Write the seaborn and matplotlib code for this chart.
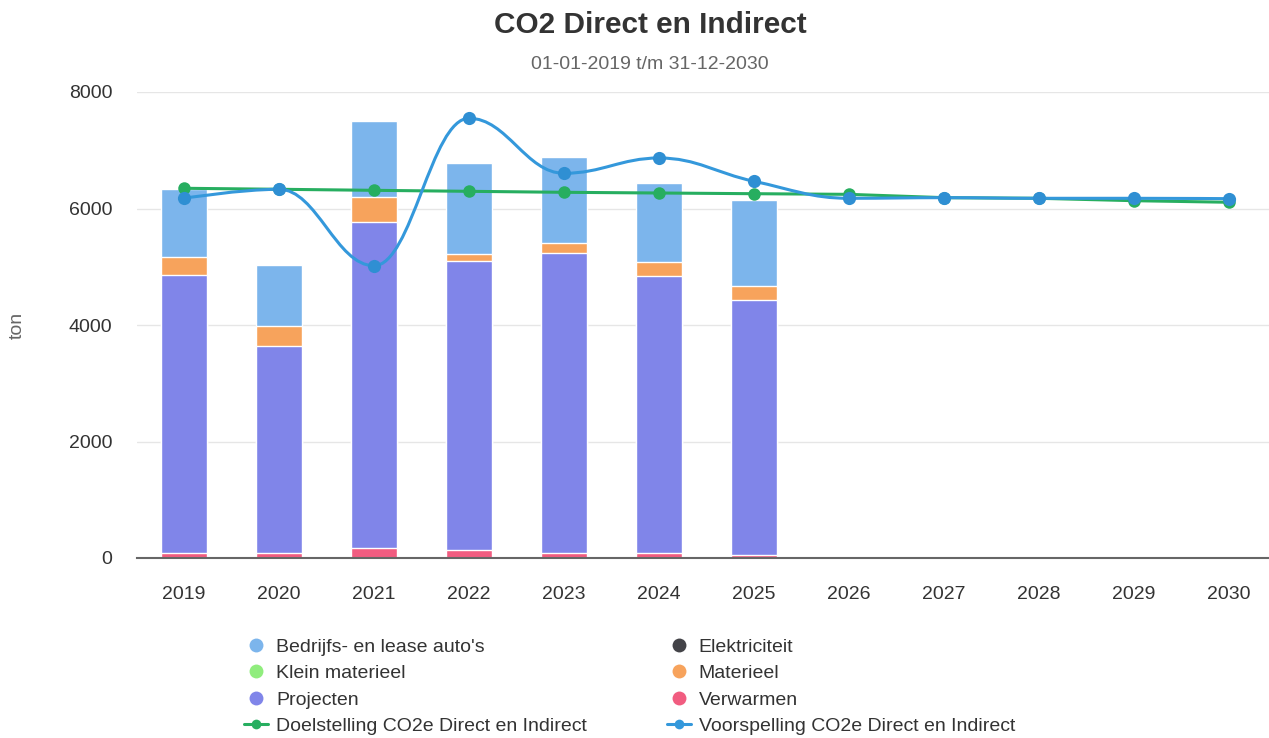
import matplotlib
matplotlib.use("Agg")
import matplotlib.pyplot as plt
from matplotlib.lines import Line2D
from matplotlib.path import Path
from matplotlib.patches import PathPatch
import numpy as np
import pandas as pd
import seaborn as sns

# Gegevens
jaren = ["2019", "2020", "2021", "2022", "2023", "2024", "2025",
         "2026", "2027", "2028", "2029", "2030"]
jarenMetData = ["2019", "2020", "2021", "2022", "2023", "2024", "2025"]
verwarmen = [85, 85, 170, 140, 85, 85, 45]
projecten = [4773, 3555, 5598, 4959, 5146, 4751, 4384]
materieel = [309, 343, 435, 125, 180, 251, 246]
bedrijfsAutos = [1168, 1047, 1299, 1563, 1478, 1356, 1471]
doelstelling = [6347, 6330, 6312, 6295, 6278, 6266, 6254, 6243, 6186, 6175, 6134, 6107]
voorspelling = [6175, 6330, 5018, 7549, 6604, 6867, 6467, 6175, 6186, 6175, 6175, 6169]

kleuren = {
    "Bedrijfs- en lease auto's": "#7cb5ec",
    "Elektriciteit": "#434348",
    "Klein materieel": "#90ed7d",
    "Materieel": "#f7a35c",
    "Projecten": "#8085e9",
    "Verwarmen": "#f15c80",
}
kleurDoel = "#27ae60"
kleurVoorspelling = "#3498db"

sns.set_theme(style="white")
plt.rcParams['font.family'] = ['Liberation Sans', 'DejaVu Sans']

df = pd.DataFrame({
    "jaar": jarenMetData,
    "Verwarmen": verwarmen,
    "Projecten": projecten,
    "Materieel": materieel,
    "Bedrijfs- en lease auto's": bedrijfsAutos,
})
lagen = ["Verwarmen", "Projecten", "Materieel", "Bedrijfs- en lease auto's"]
cumulatief = df[lagen].cumsum(axis=1)
cumulatief["jaar"] = df["jaar"]

fig = plt.figure(figsize=(12.69, 7.38), dpi=100)
ax = fig.add_axes([136.5 / 1269, 180 / 738, 1132.5 / 1269, 466 / 738])

# gestapelde kolommen: hoogste laag eerst, lagere lagen eroverheen
for laag in reversed(lagen):
    sns.barplot(data=cumulatief, x="jaar", y=laag, order=jaren, color=kleuren[laag],
                saturation=1, width=0.48, edgecolor="white", linewidth=1,
                errorbar=None, ax=ax, zorder=2)

xpos = np.arange(len(jaren))

# doelstelling: rechte lijn
sns.lineplot(x=xpos, y=doelstelling, color=kleurDoel, linewidth=2.2, marker="o",
             markersize=9, markeredgewidth=0, ax=ax, zorder=4)


def splinePad(xs, ys, smoothing=1.5):
    'Bezier-pad zoals een Highcharts spline door de punten.'
    n = len(xs)
    denom = smoothing + 1
    links = [(xs[0], ys[0])] * n
    rechts = [(xs[0], ys[0])] * n
    for i in range(n):
        links[i] = (xs[i], ys[i])
        rechts[i] = (xs[i], ys[i])
        if i == 0 or i == n - 1:
            continue
        lx = (smoothing * xs[i] + xs[i - 1]) / denom
        ly = (smoothing * ys[i] + ys[i - 1]) / denom
        rx = (smoothing * xs[i] + xs[i + 1]) / denom
        ry = (smoothing * ys[i] + ys[i + 1]) / denom
        correctie = ((ry - ly) * (rx - xs[i])) / (rx - lx) + ys[i] - ry
        ly += correctie
        ry += correctie
        if ly > ys[i - 1] and ly > ys[i]:
            ly = max(ys[i - 1], ys[i])
            ry = 2 * ys[i] - ly
        elif ly < ys[i - 1] and ly < ys[i]:
            ly = min(ys[i - 1], ys[i])
            ry = 2 * ys[i] - ly
        if ry > ys[i + 1] and ry > ys[i]:
            ry = max(ys[i + 1], ys[i])
            ly = 2 * ys[i] - ry
        elif ry < ys[i + 1] and ry < ys[i]:
            ry = min(ys[i + 1], ys[i])
            ly = 2 * ys[i] - ry
        links[i] = (lx, ly)
        rechts[i] = (rx, ry)
    verts = [(xs[0], ys[0])]
    codes = [Path.MOVETO]
    for i in range(1, n):
        verts += [rechts[i - 1], links[i], (xs[i], ys[i])]
        codes += [Path.CURVE4] * 3
    return Path(verts, codes)


ax.add_patch(PathPatch(splinePad(xpos, voorspelling), facecolor="none",
                       edgecolor=kleurVoorspelling, linewidth=2.2, zorder=5))
sns.scatterplot(x=xpos, y=voorspelling, color="#2f8fd3", s=90,
                linewidth=0, ax=ax, zorder=6)

# assen
ax.set_xlim(-0.5, 11.42)
ax.set_ylim(0, 8000)
ax.set_xticks(xpos)
ax.set_xticklabels(jaren)
ax.set_yticks([0, 2000, 4000, 6000, 8000])
ax.set_xlabel("")
ax.set_ylabel("")
ax.tick_params(axis="both", length=0, labelsize=14, labelcolor="#333333")
ax.tick_params(axis="x", pad=20)
ax.tick_params(axis="y", pad=17.5)
ax.yaxis.grid(True, color="#e6e6e6", linewidth=1, zorder=0)
ax.set_axisbelow(True)
for kant in ["top", "right", "left"]:
    ax.spines[kant].set_visible(False)
ax.spines["bottom"].set_color("#666666")
ax.spines["bottom"].set_linewidth(1.5)
ax.spines["bottom"].set_zorder(3)

fig.text(17.5 / 1269, 1 - 325 / 738, "ton", rotation=90, ha="center", va="center",
         fontsize=14, color="#666666")
fig.text(650 / 1269, 1 - 33 / 738, "CO2 Direct en Indirect", ha="center", va="baseline",
         fontsize=21.4, fontweight="bold", color="#333333")
fig.text(650 / 1269, 1 - 69 / 738, "01-01-2019 t/m 31-12-2030", ha="center",
         va="baseline", fontsize=14, color="#666666")

# legenda (kolomsgewijs gevuld)
def rondje(naam):
    return Line2D([], [], linestyle="none", marker="o", markersize=10,
                  markerfacecolor=kleuren[naam], markeredgewidth=0, label=naam)

handles = [
    rondje("Bedrijfs- en lease auto's"),
    rondje("Klein materieel"),
    rondje("Projecten"),
    Line2D([], [], color=kleurDoel, linewidth=2.2, marker="o", markersize=7,
           markeredgewidth=0, label="Doelstelling CO2e Direct en Indirect"),
    rondje("Elektriciteit"),
    rondje("Materieel"),
    rondje("Verwarmen"),
    Line2D([], [], color=kleurVoorspelling, linewidth=2.2, marker="o", markersize=7,
           markeredgewidth=0, label="Voorspelling CO2e Direct en Indirect"),
]
fig.legend(handles=handles, ncol=2, loc="upper left", bbox_to_anchor=(244 / 1269, 1 - 638 / 738),
           frameon=False, fontsize=14, labelcolor="#333333", borderpad=0, borderaxespad=0,
           handlelength=1.24, handletextpad=0.41, columnspacing=4.1, labelspacing=0.46)

fig.savefig("out.png", dpi=100)
